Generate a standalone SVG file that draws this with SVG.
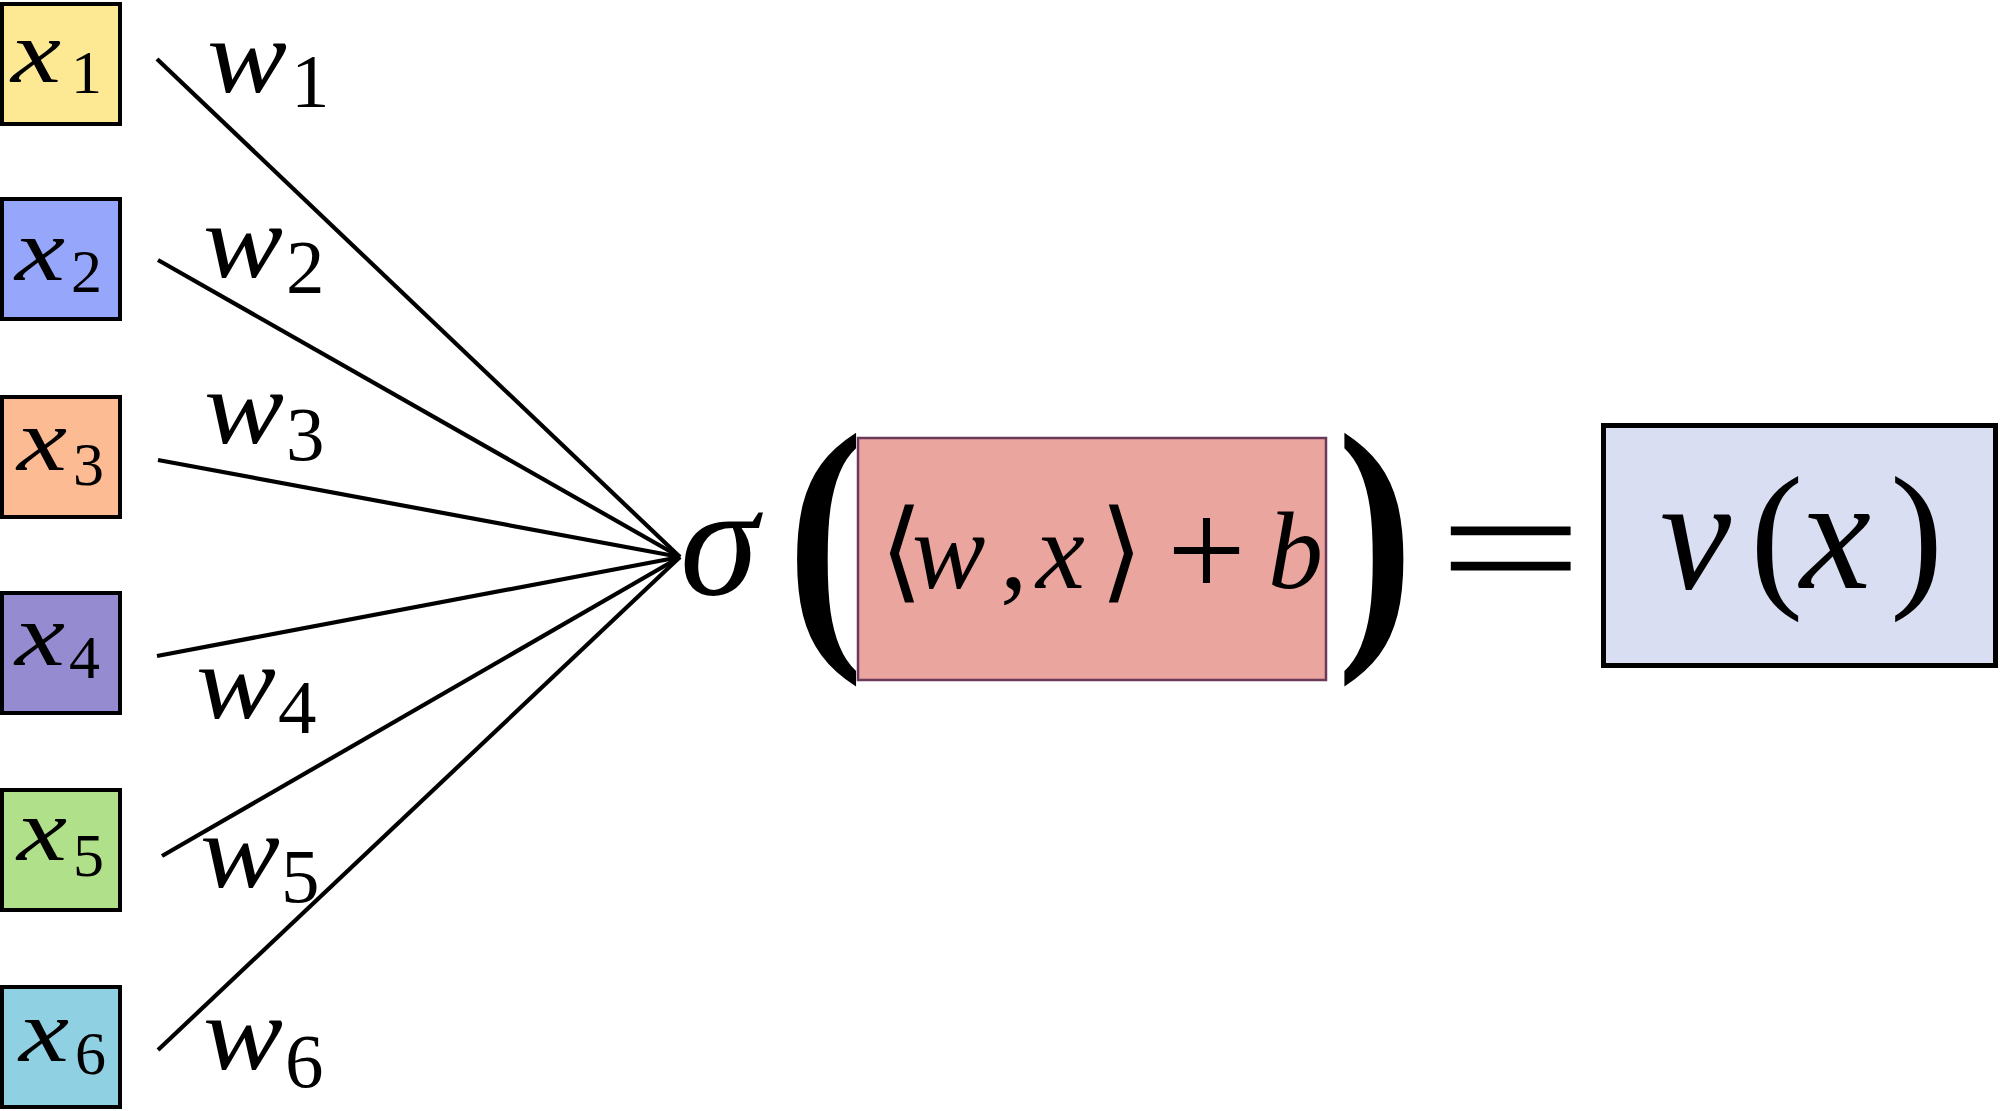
<svg xmlns="http://www.w3.org/2000/svg" width="2000" height="1111" viewBox="0 0 2000 1111">
<style>
.box{stroke:#000;stroke-width:4}
.var{font-family:"Liberation Serif","Times New Roman",serif;font-style:italic;fill:#000}
.num{font-family:"Liberation Serif","Times New Roman",serif;font-style:normal;fill:#000}
.conn line{stroke:#000;stroke-width:4.2;stroke-linecap:butt}
</style>
<rect width="2000" height="1111" fill="#fff"/>
<g class="conn" id="connectors">
<line x1="157" y1="59" x2="680" y2="557"/>
<line x1="158" y1="260" x2="680" y2="557"/>
<line x1="158" y1="460" x2="680" y2="557"/>
<line x1="157" y1="656" x2="680" y2="557"/>
<line x1="162" y1="856" x2="680" y2="557"/>
<line x1="158" y1="1050" x2="680" y2="557"/>
</g>
<g id="x1"><rect class="box" x="2" y="4" width="118" height="120" fill="#fde994"/><text class="var" x="11" y="82" font-size="88" textLength="50" lengthAdjust="spacingAndGlyphs">x</text><text class="num" x="71" y="93" font-size="62">1</text></g>
<g id="x2"><rect class="box" x="2" y="199" width="118" height="120" fill="#96a6fa"/><text class="var" x="15" y="280" font-size="88" textLength="50" lengthAdjust="spacingAndGlyphs">x</text><text class="num" x="71" y="292" font-size="62">2</text></g>
<g id="x3"><rect class="box" x="2" y="397" width="118" height="120" fill="#fdbb93"/><text class="var" x="17" y="470" font-size="88" textLength="50" lengthAdjust="spacingAndGlyphs">x</text><text class="num" x="73" y="485" font-size="62">3</text></g>
<g id="x4"><rect class="box" x="2" y="593" width="118" height="120" fill="#958bd0"/><text class="var" x="15" y="665" font-size="88" textLength="50" lengthAdjust="spacingAndGlyphs">x</text><text class="num" x="69" y="678" font-size="62">4</text></g>
<g id="x5"><rect class="box" x="2" y="790" width="118" height="120" fill="#b1e08b"/><text class="var" x="17" y="860" font-size="88" textLength="50" lengthAdjust="spacingAndGlyphs">x</text><text class="num" x="73" y="876" font-size="62">5</text></g>
<g id="x6"><rect class="box" x="2" y="987" width="118" height="120" fill="#8fd0e2"/><text class="var" x="19" y="1061" font-size="88" textLength="50" lengthAdjust="spacingAndGlyphs">x</text><text class="num" x="75" y="1074" font-size="62">6</text></g>
<g id="w1"><text class="var" x="207" y="92" font-size="105" textLength="80" lengthAdjust="spacingAndGlyphs">w</text><text class="num" x="291" y="107" font-size="77">1</text></g>
<g id="w2"><text class="var" x="203" y="277" font-size="105" textLength="80" lengthAdjust="spacingAndGlyphs">w</text><text class="num" x="286" y="293" font-size="77">2</text></g>
<g id="w3"><text class="var" x="204" y="443" font-size="105" textLength="80" lengthAdjust="spacingAndGlyphs">w</text><text class="num" x="286" y="460" font-size="77">3</text></g>
<g id="w4"><text class="var" x="196" y="718" font-size="105" textLength="80" lengthAdjust="spacingAndGlyphs">w</text><text class="num" x="278" y="733" font-size="77">4</text></g>
<g id="w5"><text class="var" x="200" y="887" font-size="105" textLength="80" lengthAdjust="spacingAndGlyphs">w</text><text class="num" x="281" y="902" font-size="77">5</text></g>
<g id="w6"><text class="var" x="203" y="1069" font-size="105" textLength="80" lengthAdjust="spacingAndGlyphs">w</text><text class="num" x="285" y="1087" font-size="77">6</text></g>
<g id="sigma"><text class="var" x="680" y="594" font-size="158">σ</text></g>
<g id="lparen"><text class="num" font-weight="bold" font-size="280" transform="translate(787,627) scale(0.82,1)">(</text></g>
<g id="inner"><rect x="858" y="438" width="468" height="242" fill="#eaa59f" stroke="#6b3a5a" stroke-width="2.5"/>
<text y="588" font-size="110"><tspan class="num" x="880" font-family="DejaVu Sans" font-weight="normal">⟨</tspan><tspan class="var" x="912">w</tspan><tspan class="num" x="1000">,</tspan><tspan class="var" x="1036">x</tspan><tspan class="num" x="1100" font-family="DejaVu Sans">⟩</tspan></text>
<text class="num" x="1167" y="597" font-size="140">+</text>
<text class="var" x="1268" y="588" font-size="110">b</text></g>
<g id="rparen"><text class="num" font-weight="bold" font-size="280" transform="translate(1337,627) scale(0.82,1)">)</text></g>
<g id="equals"><text class="num" font-size="220" transform="translate(1438,607) scale(1.17,0.8)">=</text></g>
<g id="output"><rect x="1603.5" y="425.5" width="392" height="240" fill="#d9def3" stroke="#000" stroke-width="5"/>
<text y="588" font-size="160" fill="#0b1030"><tspan class="var" x="1660" fill="#0b1030">ν</tspan><tspan class="num" x="1750" fill="#0b1030">(</tspan><tspan class="var" x="1800" fill="#0b1030">x</tspan><tspan class="num" x="1890" fill="#0b1030">)</tspan></text></g>
</svg>
